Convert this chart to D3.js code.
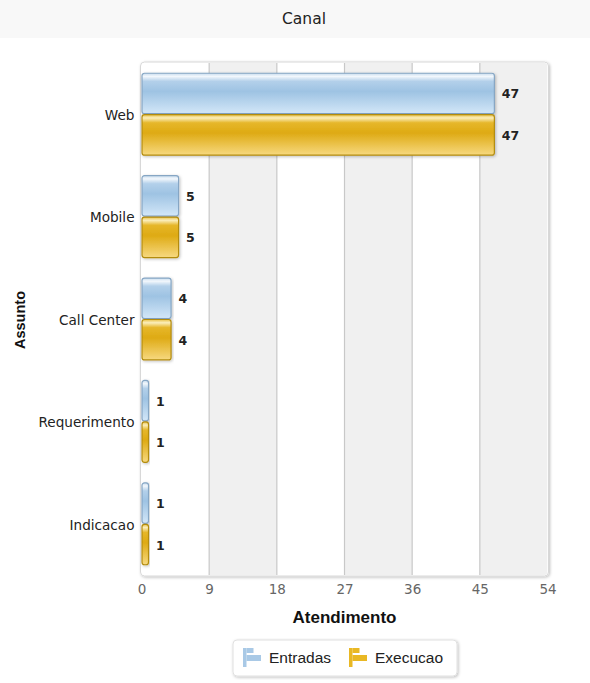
<!DOCTYPE html>
<html><head><meta charset="utf-8">
<script src="https://cdn.jsdelivr.net/npm/d3@7"></script>
<style>body{margin:0;background:#fff;}svg{display:block;}</style>
</head><body>
<svg id="c" width="590" height="683"></svg>
<script>
const categories = ["Web", "Mobile", "Call Center", "Requerimento", "Indicacao"];
const seriesNames = ["Entradas", "Execucao"];
const entradas = [47, 5, 4, 1, 1];
const execucao = [47, 5, 4, 1, 1];
const xTicks = [0, 9, 18, 27, 36, 45, 54];

const svg = d3.select("#c");
const W = 590, H = 683;
const m = {left: 141.5, right: 547.5, top: 63, bottom: 575};

const defs = svg.append("defs");
function grad(id, stops) {
  const g = defs.append("linearGradient").attr("id", id).attr("x1", 0).attr("y1", 0).attr("x2", 0).attr("y2", 1);
  stops.forEach(s => g.append("stop").attr("offset", s[0]).attr("stop-color", s[1]));
}
grad("gBlue", [[0, "#c9ddef"], [0.08, "#f2f7fc"], [0.2, "#b3d0ea"], [0.45, "#9ec3e3"], [1, "#d3e7f8"]]);
grad("gGold", [[0, "#e9c24a"], [0.08, "#fbeebb"], [0.2, "#e6b72b"], [0.45, "#deaa13"], [1, "#f7d980"]]);
const f = defs.append("filter").attr("id", "sh").attr("x", "-5%").attr("y", "-5%").attr("width", "115%").attr("height", "115%");
f.append("feDropShadow").attr("dx", 1).attr("dy", 1).attr("stdDeviation", 1.5).attr("flood-color", "#000").attr("flood-opacity", 0.25);

// header
svg.append("rect").attr("x", 0).attr("y", 0).attr("width", W).attr("height", 38).attr("fill", "#f8f8f8");
svg.append("text").attr("x", 304).attr("y", 24).attr("text-anchor", "middle")
  .attr("font-family", "DejaVu Sans, Verdana, sans-serif").attr("font-size", 15.5).attr("fill", "#222").text("Canal");

const x = d3.scaleLinear().domain([0, 54]).range([m.left, m.right]);
const y = d3.scaleBand().domain(categories).range([m.top, m.bottom]).paddingInner(0.19).paddingOuter(0.095);
const ys = d3.scaleBand().domain(seriesNames).range([0, y.bandwidth()]);

// plot frame
svg.append("rect").attr("x", m.left - 1).attr("y", m.top - 1).attr("width", m.right - m.left + 2).attr("height", m.bottom - m.top + 2)
  .attr("rx", 4).attr("fill", "#fff").attr("stroke", "#d8d8d8").attr("filter", "url(#sh)");

// alternating bands
const clip = defs.append("clipPath").attr("id", "pc");
clip.append("rect").attr("x", m.left).attr("y", m.top).attr("width", m.right - m.left).attr("height", m.bottom - m.top).attr("rx", 3);
const g = svg.append("g").attr("clip-path", "url(#pc)");
for (let i = 0; i < xTicks.length - 1; i++) {
  g.append("rect").attr("x", x(xTicks[i])).attr("y", m.top).attr("width", x(xTicks[i + 1]) - x(xTicks[i]))
    .attr("height", m.bottom - m.top).attr("fill", i % 2 ? "#f0f0f0" : "#ffffff");
}
xTicks.slice(1, -1).forEach(t => {
  g.append("line").attr("x1", x(t)).attr("x2", x(t)).attr("y1", m.top).attr("y2", m.bottom).attr("stroke", "#c8c8c8").attr("stroke-width", 1.2);
});

// axis ticks
const xAxis = d3.axisBottom(x).tickValues(xTicks).tickSize(0).tickPadding(8);
const ax = svg.append("g").attr("transform", `translate(0,${m.bottom + 2})`).call(xAxis);
ax.select(".domain").remove();
ax.selectAll("text").attr("font-family", "DejaVu Sans, Verdana, sans-serif").attr("font-size", 13.5).attr("fill", "#666").attr("dy", "0.68em");

const yAxis = d3.axisLeft(y).tickSize(0).tickPadding(7);
const ay = svg.append("g").attr("transform", `translate(${m.left},0)`).call(yAxis);
ay.select(".domain").remove();
ay.selectAll("text").attr("font-family", "DejaVu Sans, Verdana, sans-serif").attr("font-size", 13.6).attr("fill", "#222").attr("dy", "0.42em");

// bars
const data = categories.map((c, i) => ({c, vals: [{s: "Entradas", v: entradas[i]}, {s: "Execucao", v: execucao[i]}]}));
const fills = {Entradas: "url(#gBlue)", Execucao: "url(#gGold)"};
const strokes = {Entradas: "#86a6c4", Execucao: "#b38c0f"};
const groups = svg.append("g").selectAll("g").data(data).join("g").attr("transform", d => `translate(0,${y(d.c)})`);
groups.selectAll("rect").data(d => d.vals).join("rect")
  .attr("x", x(0) + 0.5).attr("y", d => ys(d.s) + 0.5)
  .attr("width", d => x(d.v) - x(0) - 1).attr("height", ys.bandwidth() - 1)
  .attr("rx", 2.5).attr("fill", d => fills[d.s]).attr("stroke", d => strokes[d.s]).attr("stroke-width", 1.2)
  .attr("filter", "url(#sh)");
groups.selectAll("text").data(d => d.vals).join("text")
  .attr("x", d => x(d.v) + 7).attr("y", d => ys(d.s) + ys.bandwidth() / 2 + 5)
  .attr("font-family", "DejaVu Sans, Verdana, sans-serif").attr("font-weight", "bold").attr("font-size", 12.5).attr("fill", "#222")
  .text(d => d.v);

// axis titles
svg.append("text").attr("x", 344.5).attr("y", 623).attr("text-anchor", "middle")
  .attr("font-family", "Liberation Sans, Arial, sans-serif").attr("font-weight", "bold").attr("font-size", 17).attr("fill", "#111").text("Atendimento");
svg.append("text").attr("transform", "translate(25,320) rotate(-90)").attr("text-anchor", "middle")
  .attr("font-family", "Liberation Sans, Arial, sans-serif").attr("font-weight", "bold").attr("font-size", 14.5).attr("fill", "#111").text("Assunto");

// legend
const lg = svg.append("g");
lg.append("rect").attr("x", 233).attr("y", 640).attr("width", 224).attr("height", 36).attr("rx", 4)
  .attr("fill", "#fff").attr("stroke", "#e0e0e0").attr("filter", "url(#sh)");
const legX = [243, 349];
const legCol = {Entradas: "#a9c9e6", Execucao: "#e9b824"};
seriesNames.forEach((s, i) => {
  const lx = legX[i], ly = 648;
  const li = lg.append("g");
  li.append("rect").attr("x", lx).attr("y", ly).attr("width", 3.5).attr("height", 19).attr("fill", legCol[s]);
  li.append("rect").attr("x", lx + 3.5).attr("y", ly).attr("width", 7).attr("height", 5).attr("fill", legCol[s]);
  li.append("rect").attr("x", lx + 3.5).attr("y", ly + 7).attr("width", 14.5).attr("height", 6).attr("fill", legCol[s]);
  lg.append("text").attr("x", lx + 26).attr("y", ly + 15).attr("font-family", "Liberation Sans, Arial, sans-serif")
    .attr("font-size", 15.5).attr("fill", "#222").text(s);
});
</script>
</body></html>
